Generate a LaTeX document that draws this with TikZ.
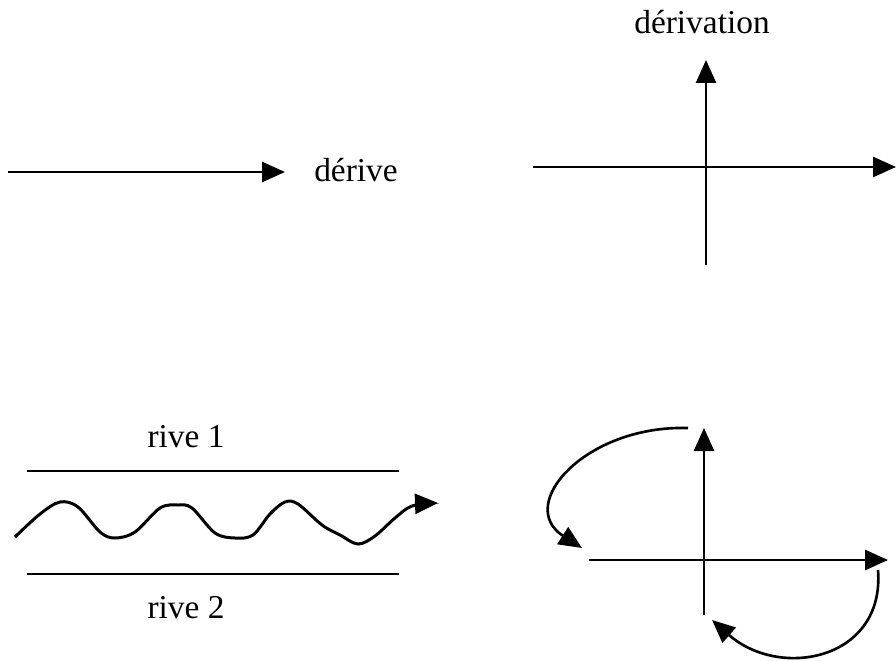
\documentclass[tikz,border=0pt]{standalone}
\usepackage{fontspec}
\setmainfont{Liberation Serif}
\usepackage{xcolor}
\usepackage{tikz}
\usetikzlibrary{arrows.meta,positioning}
\definecolor{Ink}{HTML}{000000}
\tikzset{
  axis/.style={draw=Ink,line width=1.5pt},
  arrow/.style={axis,-{Triangle[length=4.6mm,width=4mm]}},
  bank/.style={draw=Ink,line width=0.9pt},
  label/.style={font=\fontsize{19}{23}\selectfont,text=Ink,inner sep=0pt}
}
\begin{document}
\begin{tikzpicture}[x=0.02cm,y=-0.02cm]
  \useasboundingbox (0,0) rectangle (896,660);
  % top left
  \coordinate (a0) at (8,172);
  \node[label] (derive) at (356,170) {dérive};
  \draw[arrow] (a0) -- (285,172);
  % top right
  \coordinate (o1) at (706,167);
  \node[label] (derivation) at (702,22) {dérivation};
  \draw[axis] (533,167) -- (o1);
  \draw[arrow] (o1) -- (896,167);
  \draw[axis] (706,265) -- (o1);
  \draw[arrow] (o1) -- (706,60);
  % bottom left
  \node[label] (r1) at (186,437) {rive 1};
  \node[label] (r2) at (186,608) {rive 2};
  \draw[bank] (27,471) -- (399,471);
  \draw[bank] (27,574) -- (399,574);
  \draw[arrow,line width=1.7pt] plot[smooth,tension=0.55] coordinates {(15,537) (40,514) (60,502) (78,507) (100,532) (115,538) (135,532) (160,508) (178,505) (192,508) (215,533) (235,538) (253,535) (270,514) (285,502) (298,504) (322,525) (340,535) (358,544) (375,536) (395,518) (412,506) (438,503)};
  % bottom right
  \coordinate (o2) at (704,560);
  \draw[axis] (589,560) -- (o2);
  \draw[arrow] (o2) -- (888,560);
  \draw[axis] (704,615) -- (o2);
  \draw[arrow] (o2) -- (704,428);
  \draw[arrow] (688,428) .. controls (585,425) and (515,505) .. (582,548);
  \draw[arrow] (878,570) .. controls (885,660) and (780,680) .. (712,620);
\end{tikzpicture}
\end{document}
